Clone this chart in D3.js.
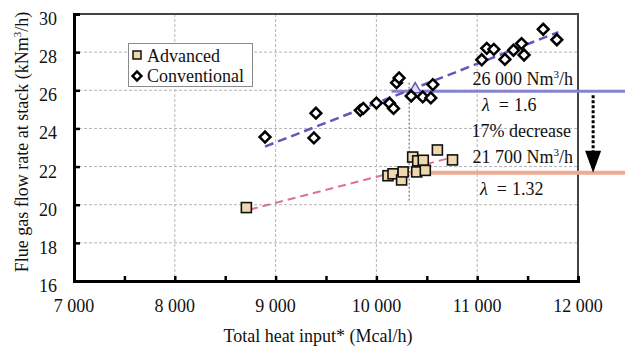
<!DOCTYPE html>
<html>
<head>
<meta charset="utf-8">
<script src="https://cdn.jsdelivr.net/npm/d3@7"></script>
<style>
  body { margin: 0; background: #fff; }
  svg text { font-family: "Liberation Serif", "Times New Roman", Times, "DejaVu Serif", serif; fill: #111; }
</style>
</head>
<body>
<div id="chart"></div>
<script>
// heat input (Mcal/h), flue gas flow (kNm3/h)
const conventional = [
  [8895, 23.55], [9380, 23.5], [9400, 24.8], [9840, 24.95], [9870, 25.05],
  [10000, 25.33], [10130, 25.32], [10170, 25.05], [10200, 26.4], [10225, 26.65],
  [10345, 25.7], [10460, 25.65], [10540, 25.6], [10560, 26.3],
  [11045, 27.6], [11095, 28.2], [11165, 28.15], [11275, 27.62], [11360, 28.1],
  [11440, 28.45], [11465, 27.85], [11655, 29.2], [11790, 28.65]
];
const advanced = [
  [8710, 19.85], [10115, 21.52], [10165, 21.62], [10250, 21.3], [10265, 21.72],
  [10360, 22.5], [10400, 21.72], [10410, 22.3], [10465, 22.33], [10485, 21.8],
  [10605, 22.87], [10755, 22.35]
];
const convTrend = [[8895, 23.05], [11805, 29.05]];
const advTrend = [[8745, 19.75], [10730, 22.45]];
const convLevel = 25.95;
const advLevel = 21.67;
const refHeat = 10325;
const xTicks = [7000, 8000, 9000, 10000, 11000, 12000];
const yTicks = [16, 18, 20, 22, 24, 26, 28, 30];

const margin = { top: 14, left: 74 };
const width = 504, height = 267;
const serif = '"Liberation Serif", "Times New Roman", Times, "DejaVu Serif", serif';

const svg = d3.select("#chart").append("svg")
  .attr("width", 625).attr("height", 349)
  .attr("font-family", serif);
const g = svg.append("g").attr("transform", `translate(${margin.left},${margin.top})`);

const x = d3.scaleLinear().domain([7000, 12000]).range([0, width]);
const y = d3.scaleLinear().domain([16, 30]).range([height, 0]);
const fmt = d => d3.format(",")(d).replace(",", " ");

// grid
g.selectAll(".vgrid").data(xTicks.slice(1, -1)).join("line")
  .attr("x1", d => x(d)).attr("x2", d => x(d)).attr("y1", 0).attr("y2", height)
  .attr("stroke", "#b4b4b4").attr("stroke-width", 1).attr("stroke-dasharray", "3,2");
g.selectAll(".hgrid").data(yTicks.slice(1, -1)).join("line")
  .attr("y1", d => y(d)).attr("y2", d => y(d)).attr("x1", 0).attr("x2", width)
  .attr("stroke", "#b4b4b4").attr("stroke-width", 1).attr("stroke-dasharray", "3,2");

// top/right frame
g.append("path")
  .attr("d", `M0,0H${width}V${height}`)
  .attr("fill", "none").attr("stroke", "#444").attr("stroke-width", 2);

// axes
const xAxis = g.append("g").attr("transform", `translate(0,${height})`)
  .call(d3.axisBottom(x).tickValues(d3.range(7000, 12001, 500)).tickSize(-5).tickFormat(""));
const yAxis = g.append("g")
  .call(d3.axisLeft(y).tickValues(yTicks).tickSize(-6).tickFormat(""));
[xAxis, yAxis].forEach(a => {
  a.select(".domain").attr("stroke", "#000").attr("stroke-width", 3);
  a.selectAll(".tick line").attr("stroke", "#000").attr("stroke-width", 2.5);
});

g.selectAll(".xlab").data(xTicks).join("text")
  .attr("x", d => x(d)).attr("y", height + 31)
  .attr("text-anchor", "middle").attr("font-size", "18px").text(fmt);
g.selectAll(".ylab").data(yTicks).join("text")
  .attr("x", -17).attr("y", d => y(d) + 11)
  .attr("text-anchor", "end").attr("font-size", "18px").text(d => d);

// axis titles
svg.append("text").attr("x", 318).attr("y", 342)
  .attr("text-anchor", "middle").attr("font-size", "18px")
  .text("Total heat input* (Mcal/h)");
const yt = svg.append("text").attr("transform", "translate(28,142) rotate(-90)")
  .attr("text-anchor", "middle").attr("font-size", "18px");
yt.append("tspan").text("Flue gas flow rate at stack (kNm");
yt.append("tspan").attr("dy", -7).attr("font-size", "11px").text("3");
yt.append("tspan").attr("dy", 7).text("/h)");

// reference levels (drawn past the frame, like the original)
const line = d3.line().x(d => x(d[0])).y(d => y(d[1]));
g.append("path").datum([[10150, convLevel], [12470, convLevel]])
  .attr("d", line).attr("stroke", "#8683cf").attr("stroke-width", 3).attr("fill", "none");
g.append("path").datum([[10330, advLevel], [12470, advLevel]])
  .attr("d", line).attr("stroke", "#eeaa92").attr("stroke-width", 4).attr("fill", "none");
g.append("path").datum([[refHeat, 26.4], [refHeat, 20.2]])
  .attr("d", line).attr("stroke", "#555").attr("stroke-width", 1).attr("stroke-dasharray", "2,2");

// trend lines
g.append("path").datum(convTrend).attr("d", line)
  .attr("stroke", "#6458b4").attr("stroke-width", 2.5).attr("stroke-dasharray", "9,5").attr("fill", "none");
g.append("path").datum(advTrend).attr("d", line)
  .attr("stroke", "#e0709a").attr("stroke-width", 2).attr("stroke-dasharray", "8,5").attr("fill", "none");

// intersection marker
g.append("path").attr("d", d3.symbol(d3.symbolTriangle, 60)())
  .attr("transform", `translate(${x(10385)},${y(26.05)})`)
  .attr("fill", "#dcdcf4").attr("stroke", "#6458b4").attr("stroke-width", 1.5);

// markers
g.selectAll(".conv").data(conventional).join("path")
  .attr("d", d3.symbol(d3.symbolSquare, 58)())
  .attr("transform", d => `translate(${x(d[0])},${y(d[1])}) rotate(45)`)
  .attr("fill", "#fff").attr("stroke", "#000").attr("stroke-width", 2.5);
g.selectAll(".adv").data(advanced).join("rect")
  .attr("x", d => x(d[0]) - 5).attr("y", d => y(d[1]) - 5)
  .attr("width", 10).attr("height", 10)
  .attr("fill", "#efd7ae").attr("stroke", "#111").attr("stroke-width", 1.6);

// decrease arrow
const ax = x(12150);
g.append("line").attr("x1", ax).attr("x2", ax)
  .attr("y1", y(convLevel) + 4).attr("y2", y(advLevel) - 20)
  .attr("stroke", "#000").attr("stroke-width", 3).attr("stroke-dasharray", "3,2");
g.append("path")
  .attr("d", `M${ax - 8},${y(advLevel) - 22}L${ax + 8},${y(advLevel) - 22}L${ax},${y(advLevel)}Z`)
  .attr("fill", "#000");

// annotations
function sup(t, parts) {
  t.append("tspan").text(parts[0]);
  t.append("tspan").attr("dy", -7).attr("font-size", "11px").text("3");
  t.append("tspan").attr("dy", 7).text(parts[1]);
}
function lambda(t, val) {
  t.append("tspan").attr("font-style", "italic").text("λ");
  t.append("tspan").attr("dx", 9).text("=");
  t.append("tspan").attr("dx", 5).text(val);
}
sup(svg.append("text").attr("x", 573).attr("y", 85).attr("text-anchor", "end").attr("font-size", "18px"),
  ["26 000 Nm", "/h"]);
sup(svg.append("text").attr("x", 573).attr("y", 163).attr("text-anchor", "end").attr("font-size", "18px"),
  ["21 700 Nm", "/h"]);
lambda(svg.append("text").attr("x", 482).attr("y", 111).attr("font-size", "18px"), "1.6");
lambda(svg.append("text").attr("x", 480).attr("y", 195).attr("font-size", "18px"), "1.32");
svg.append("text").attr("x", 571).attr("y", 137).attr("text-anchor", "end")
  .attr("font-size", "18px").text("17% decrease");

// legend
const lg = svg.append("g");
lg.append("rect").attr("x", 128.5).attr("y", 43.5).attr("width", 124).attr("height", 43)
  .attr("fill", "#fff").attr("stroke", "#8a8a8a").attr("stroke-width", 1);
lg.append("rect").attr("x", 133).attr("y", 51).attr("width", 8).attr("height", 8)
  .attr("fill", "#efd7ae").attr("stroke", "#111").attr("stroke-width", 1.5);
lg.append("path").attr("d", d3.symbol(d3.symbolSquare, 40)())
  .attr("transform", "translate(137,76) rotate(45)")
  .attr("fill", "#fff").attr("stroke", "#000").attr("stroke-width", 2.4);
lg.append("text").attr("x", 147).attr("y", 62).attr("font-size", "18px").text("Advanced");
lg.append("text").attr("x", 147).attr("y", 82).attr("font-size", "18px").text("Conventional");
</script>
</body>
</html>
